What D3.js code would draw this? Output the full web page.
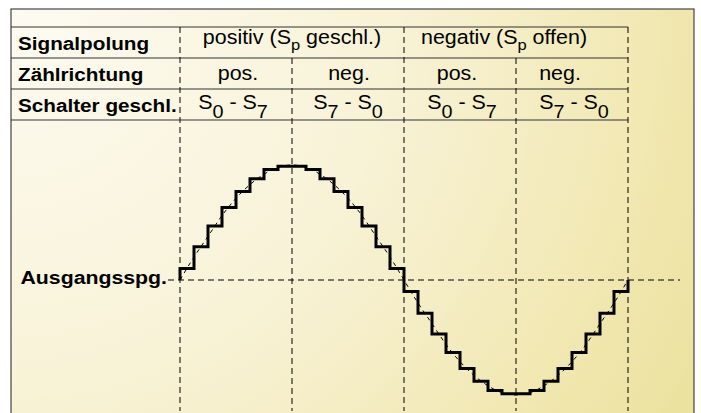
<!DOCTYPE html>
<html>
<head>
<meta charset="utf-8">
<script src="https://cdn.jsdelivr.net/npm/d3@7/dist/d3.min.js"></script>
<style>
  html, body { margin: 0; padding: 0; background: #ffffff; }
  svg { display: block; }
  text { font-family: "Liberation Sans", Arial, Helvetica, sans-serif; fill: #000; }
</style>
</head>
<body>
<div id="chart"></div>
<script>
// Table rows and cell texts ("_x" marks a subscript character)
const rowLabels = ["Signalpolung", "Zählrichtung", "Schalter geschl."];
const polarityLabels = ["positiv (S_p geschl.)", "negativ (S_p offen)"];
const countLabels = ["pos.", "neg.", "pos.", "neg."];
const switchLabels = ["S_0 - S_7", "S_7 - S_0", "S_0 - S_7", "S_7 - S_0"];
const outputLabel = "Ausgangsspg.";

// Staircase output: one level per switch step (32 steps over a full period)
const stepLevels = [
   0.10,  0.29,  0.47,  0.63,  0.77,  0.88,  0.96,  0.99,
   0.99,  0.96,  0.88,  0.77,  0.63,  0.47,  0.29,  0.10,
  -0.10, -0.29, -0.47, -0.63, -0.77, -0.88, -0.96, -0.99,
  -0.99, -0.96, -0.88, -0.77, -0.63, -0.47, -0.29, -0.10
];

// Ideal sine reference, sampled at every step boundary (33 points)
const sineRef = [
   0.00,  0.20,  0.38,  0.56,  0.71,  0.83,  0.92,  0.98,  1.00,
   0.98,  0.92,  0.83,  0.71,  0.56,  0.38,  0.20,  0.00,
  -0.20, -0.38, -0.56, -0.71, -0.83, -0.92, -0.98, -1.00,
  -0.98, -0.92, -0.83, -0.71, -0.56, -0.38, -0.20,  0.00
];

const W = 701, H = 413;
const frame = { x: 11, y: 9, w: 683, h: 406 };

const svg = d3.select("#chart").append("svg")
  .attr("width", W).attr("height", H);

// Background: cream fading to yellow toward the lower right
const defs = svg.append("defs");
const grad = defs.append("radialGradient")
  .attr("id", "bg").attr("gradientUnits", "userSpaceOnUse")
  .attr("cx", frame.x).attr("cy", frame.y).attr("r", 770);
[[0, "#fdfbf2"], [0.5, "#f8f2d6"], [0.8, "#f2e9b6"], [1, "#ece2a0"]]
  .forEach(([o, c]) => grad.append("stop").attr("offset", o).attr("stop-color", c));

svg.append("rect")
  .attr("x", frame.x).attr("y", frame.y)
  .attr("width", frame.w).attr("height", frame.h)
  .attr("fill", "url(#bg)").attr("stroke", "#444").attr("stroke-width", 1.2);

// Scales: x in switch steps, y in normalised output voltage
const nSteps = stepLevels.length;
const x = d3.scaleLinear().domain([0, nSteps]).range([180, 628]);
const y = d3.scaleLinear().domain([-1, 1]).range([395, 165]);
const rows = d3.scaleBand().domain(rowLabels).range([27, 120]);
const quarter = nSteps / 4;

// Helper: text with subscripts, horizontally widened like the original typeface
function richText(g, str, px, py, anchor, size, weight, subSize, subShift, sx) {
  const t = g.append("text")
    .attr("transform", `translate(${px},${py}) scale(${sx},1)`)
    .attr("text-anchor", anchor)
    .attr("font-size", size)
    .attr("font-weight", weight);
  const parts = str.split(/(_.)/).filter(s => s.length);
  let shifted = false;
  parts.forEach(p => {
    if (p[0] === "_") {
      t.append("tspan").attr("font-size", subSize).attr("dy", subShift).text(p[1]);
      shifted = true;
    } else {
      const ts = t.append("tspan").text(p);
      if (shifted) { ts.attr("dy", -subShift); shifted = false; }
    }
  });
  return t;
}

// Table rules
const tableG = svg.append("g");
const ruleYs = rowLabels.map(r => rows(r)).concat([rows.range()[1]]);
tableG.selectAll("line.rule").data(ruleYs).join("line")
  .attr("class", "rule")
  .attr("x1", frame.x).attr("x2", x(nSteps))
  .attr("y1", d => d).attr("y2", d => d)
  .attr("stroke", "#333").attr("stroke-width", 1.2);

// Vertical dashed dividers (mid-half dividers start below the polarity row)
const dividers = d3.range(0, nSteps + 1, quarter).map(s => ({
  s, top: (s % (2 * quarter) === 0) ? rows(rowLabels[0]) : rows(rowLabels[1])
}));
svg.append("g").selectAll("line").data(dividers).join("line")
  .attr("x1", d => x(d.s)).attr("x2", d => x(d.s))
  .attr("y1", d => d.top).attr("y2", 411)
  .attr("stroke", "#000").attr("stroke-width", 1)
  .attr("stroke-dasharray", "6,4");

// Zero line of the output voltage
svg.append("line")
  .attr("x1", 168).attr("x2", 680)
  .attr("y1", y(0)).attr("y2", y(0))
  .attr("stroke", "#000").attr("stroke-width", 1)
  .attr("stroke-dasharray", "6,4");

// Row headers
const boldScale = 1.09, regScale = 1.1;
rowLabels.forEach(r => {
  richText(svg, r, 18, rows(r) + 22.5, "start", 19, "bold", 15, 6, boldScale);
});

// Polarity row (spans two quarters each)
const polNudge = [0, -12];
polarityLabels.forEach((lab, i) => {
  const cx = x((2 * i + 1) * quarter) + polNudge[i];
  richText(svg, lab, cx, rows(rowLabels[0]) + 16.5, "middle", 19.5, "normal", 15, 6, regScale);
});

// Counting direction row
const countNudge = [2, 1, -3, -12];
countLabels.forEach((lab, i) => {
  const cx = x((i + 0.5) * quarter) + countNudge[i];
  richText(svg, lab, cx, rows(rowLabels[1]) + 22, "middle", 19.5, "normal", 15, 6, regScale);
});

// Closed switches row
const switchNudge = [-3, 0, 2, 2];
switchLabels.forEach((lab, i) => {
  const cx = x((i + 0.5) * quarter) + switchNudge[i];
  richText(svg, lab, cx, rows(rowLabels[2]) + 19.5, "middle", 19.5, "normal", 18, 9.5, regScale);
});

// Output label at the zero line
richText(svg, outputLabel, 167, y(0) + 4, "end", 19, "bold", 15, 6, 1.12);

// Ideal sine (thin dashed)
const sineLine = d3.line()
  .x((d, i) => x(i)).y(d => y(d))
  .curve(d3.curveNatural);
svg.append("path")
  .datum(sineRef)
  .attr("d", sineLine)
  .attr("fill", "none").attr("stroke", "#000").attr("stroke-width", 1)
  .attr("stroke-dasharray", "4,4");

// Staircase output (thick)
const stairPts = [[0, 0]]
  .concat(stepLevels.map((v, i) => [i, v]))
  .concat([[nSteps, stepLevels[nSteps - 1]], [nSteps, 0]]);
const stairLine = d3.line()
  .x(d => x(d[0])).y(d => y(d[1]))
  .curve(d3.curveStepAfter);
svg.append("path")
  .datum(stairPts)
  .attr("d", stairLine)
  .attr("fill", "none").attr("stroke", "#000").attr("stroke-width", 3)
  .attr("stroke-linejoin", "miter");
</script>
</body>
</html>
